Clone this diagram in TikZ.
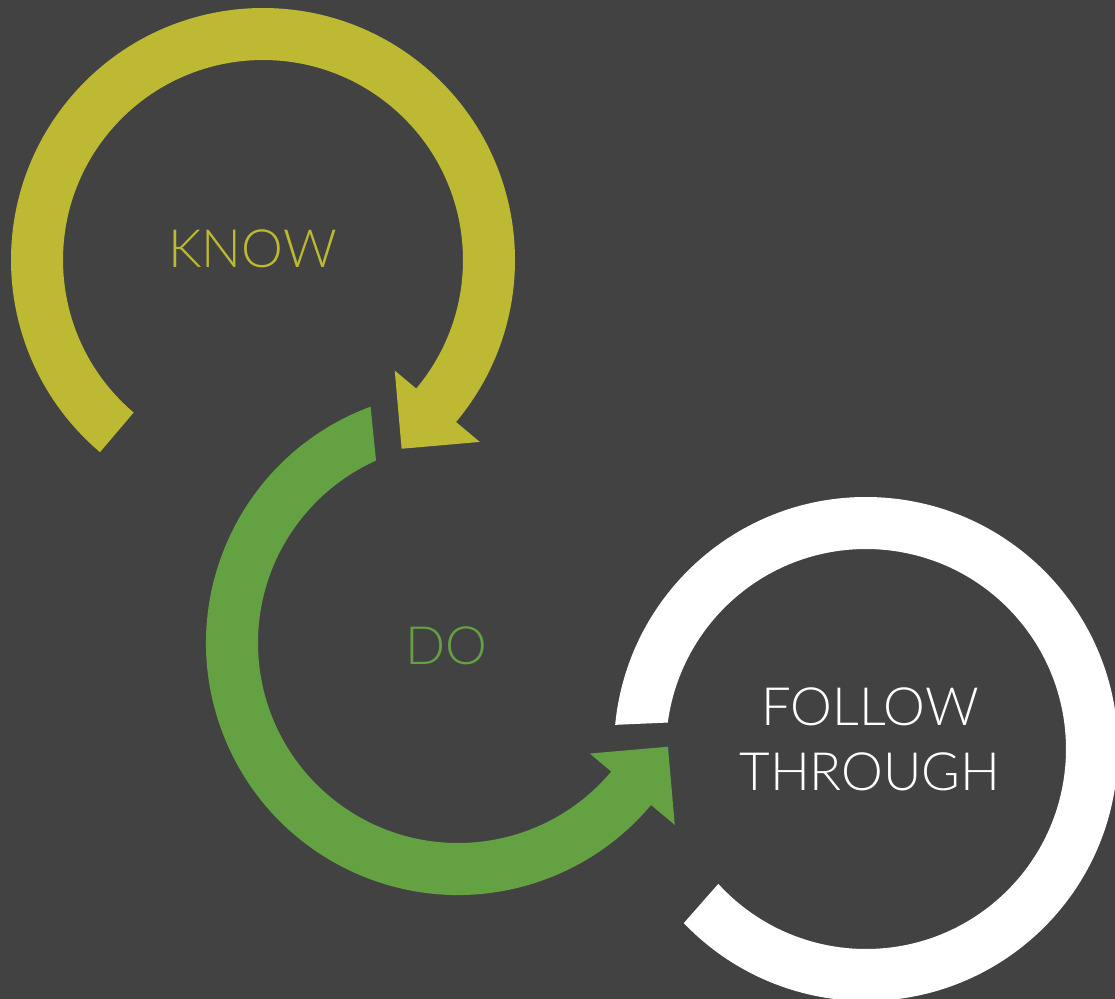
\documentclass[tikz,border=0pt]{standalone}
\usepackage{fontspec}
\setmainfont{Lato Light}
\usetikzlibrary{calc}
\definecolor{bggray}{HTML}{424242}
\definecolor{knowolive}{HTML}{BDB932}
\definecolor{dogreen}{HTML}{63A143}
\tikzset{
  word/.style={inner sep=0pt, align=center, font=\fontsize{39.6}{48.75}\selectfont},
}
\begin{document}
\begin{tikzpicture}[x=0.75pt,y=-0.75pt]
      \fill[bggray] (0,0) rectangle (1115,999);
      \useasboundingbox (0,0) rectangle (1115,999);
      \clip (0,0) rectangle (1115,999);
      \coordinate (kc) at (263,260);
      \coordinate (dc) at (458,643);
      \coordinate (fc) at (866,749);
      % know ring with its arrowhead
      \fill[knowolive] ($(kc)+(130.3:252)$) arc[start angle=130.3, end angle=400, radius=252]
        -- ($(kc)+(40:283)$) -- ($(kc)+(40:227.5)+(130:55.5)$) -- ($(kc)+(40:172)$)
        -- ($(kc)+(40:200)$) arc[start angle=400, end angle=130.3, radius=200] -- cycle;
      % do ring with its arrowhead
      \fill[dogreen] ($(dc)+(249.7:252)$) arc[start angle=249.7, end angle=40, radius=252]
        -- ($(dc)+(40:283)$) -- ($(dc)+(40:227.5)+(-50:55.5)$) -- ($(dc)+(40:172)$)
        -- ($(dc)+(40:200)$) arc[start angle=40, end angle=245.8, radius=200] -- cycle;
      % follow through ring
      \fill[white] ($(fc)+(185.5:252)$) arc[start angle=185.5, end angle=496.3, radius=252]
        -- ($(fc)+(137.6:200)$) arc[start angle=497.6, end angle=187.6, radius=200] -- cycle;
      \node[word, knowolive] (know) at (252.7,249) {KNOW};
      \node[word, dogreen] (do) at (446.7,646) {DO};
      \node[word, white] (follow) at (870,739) {FOLLOW\\THROUGH};
    \end{tikzpicture}
\end{document}
